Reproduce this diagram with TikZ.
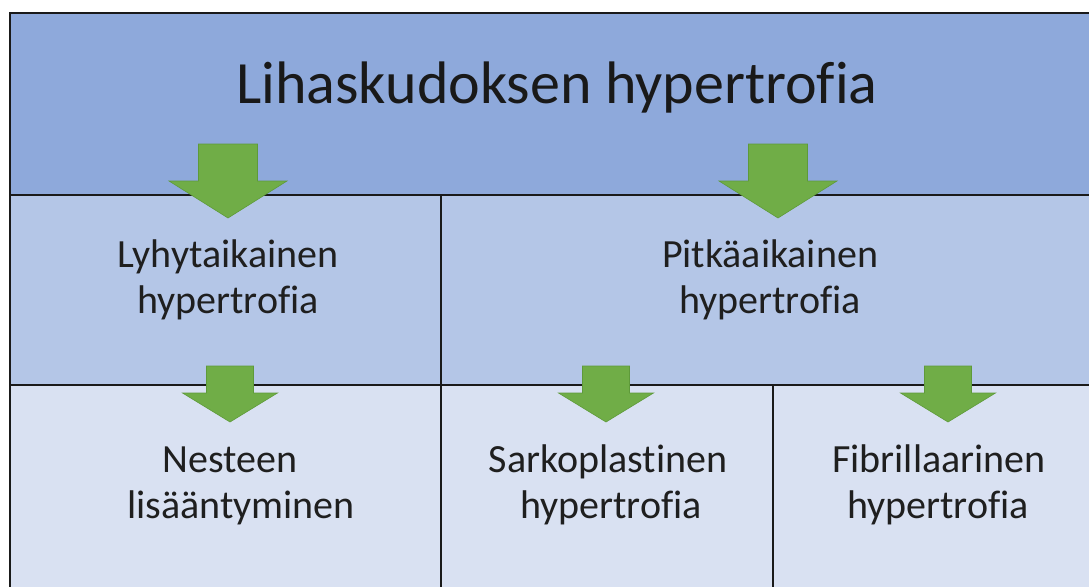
\documentclass[tikz,border=0pt]{standalone}
\usepackage{fontspec}
\setmainfont[Ligatures=NoCommon]{Carlito}
\definecolor{rowA}{HTML}{8EA9DB}
\definecolor{rowB}{HTML}{B4C6E7}
\definecolor{rowC}{HTML}{D9E1F2}
\definecolor{arrowfill}{HTML}{70AD47}
\definecolor{arrowline}{HTML}{5E9A3A}
\definecolor{gridline}{HTML}{1A1A1A}
\begin{document}
\begin{tikzpicture}[x=1pt,y=-1pt,
  title/.style={anchor=base,inner sep=0pt,font=\fontsize{60}{72}\selectfont,text=black!90},
  body/.style={anchor=base,inner sep=0pt,font=\fontsize{40}{48}\selectfont,text=black!88},
  grid/.style={draw=gridline,line width=1.6pt},
  bigarrow/.style={fill=arrowfill,draw=arrowline,line width=0.6pt,line join=miter},
]
\useasboundingbox (0,0) rectangle (1089,587);
\fill[white] (0,0) rectangle (1089,587);
% cell fills
\fill[rowA] (10,13) rectangle (1089,195);
\fill[rowB] (10,195) rectangle (1089,385);
\fill[rowC] (10,385) rectangle (1089,587);
% grid lines
\draw[grid] (1089,13) -- (10,13) -- (10,587);
\draw[grid] (10,195) -- (1089,195);
\draw[grid] (10,385) -- (1089,385);
\draw[grid] (441,195) -- (441,587);
\draw[grid] (773,385) -- (773,587);
% big arrows (row 1 -> row 2)
\foreach \cx in {228,778}{
  \draw[bigarrow] (\cx-29.5,144) -- (\cx+29.5,144) -- (\cx+29.5,181) -- (\cx+59,181)
    -- (\cx,218) -- (\cx-59,181) -- (\cx-29.5,181) -- cycle;
}
% small arrows (row 2 -> row 3)
\foreach \cx in {230,606,948}{
  \draw[bigarrow] (\cx-23.5,366) -- (\cx+23.5,366) -- (\cx+23.5,393) -- (\cx+47.5,393)
    -- (\cx,422) -- (\cx-47.5,393) -- (\cx-23.5,393) -- cycle;
}
% texts
\node[title] (ttl) at (557,103) {Lihaskudoksen hypertrofia};
\node[body] (lyh1) at (228,267) {Lyhytaikainen};
\node[body] (lyh2) at (228,313) {hypertrofia};
\node[body] (pit1) at (770,267) {Pitkäaikainen};
\node[body] (pit2) at (770,313) {hypertrofia};
\node[body] (nes1) at (230,472) {Nesteen};
\node[body] (nes2) at (241,518) {lisääntyminen};
\node[body] (sar1) at (608,472) {Sarkoplastinen};
\node[body] (sar2) at (611,518) {hypertrofia};
\node[body] (fib1) at (939,472) {Fibrillaarinen};
\node[body] (fib2) at (938,518) {hypertrofia};
\end{tikzpicture}
\end{document}
